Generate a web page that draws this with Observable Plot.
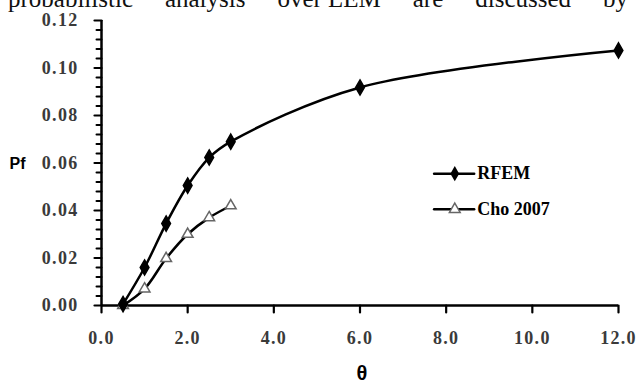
<!DOCTYPE html>
<html>
<head>
<meta charset="utf-8">
<script src="https://cdn.jsdelivr.net/npm/d3@7"></script>
<script src="https://cdn.jsdelivr.net/npm/@observablehq/plot@0.6"></script>
<style>
  html, body { margin: 0; padding: 0; background: #fff; }
  #wrap { position: relative; width: 638px; height: 380px; overflow: hidden; }
  #toptext {
    position: absolute; left: 8px; width: 620px; top: -16px;
    font-family: "Liberation Serif", "Times New Roman", serif; font-size: 25px;
    white-space: nowrap; color: #111; line-height: 30px;
    display: flex; justify-content: space-between;
  }
  #chart g[aria-label$="tick label"] {
    font-family: "Liberation Serif", "Times New Roman", serif !important;
    letter-spacing: 1.3px;
  }
</style>
</head>
<body>
<div id="wrap">
  <div id="chart"></div>
  <div id="toptext"></div>
</div>
<script>
const topLine = ["probabilistic", "analysis", "over LEM", "are", "discussed", "by"];

const thetaValues = [0.5, 1.0, 1.5, 2.0, 2.5, 3.0, 6.0, 12.0];
const rfemValues  = [0.0006, 0.016, 0.0345, 0.0505, 0.0623, 0.069, 0.0918, 0.1074];
const choTheta    = [0.5, 1.0, 1.5, 2.0, 2.5, 3.0];
const choValues   = [0.0, 0.007, 0.0198, 0.030, 0.037, 0.042];

const xTicks = [0, 2, 4, 6, 8, 10, 12];
const yTicks = [0, 0.02, 0.04, 0.06, 0.08, 0.10, 0.12];
const yMinorTicks = [0.004, 0.008, 0.012, 0.016, 0.024, 0.028, 0.032, 0.036, 0.044, 0.048, 0.052, 0.056,
  0.064, 0.068, 0.072, 0.076, 0.084, 0.088, 0.092, 0.096, 0.104, 0.108, 0.112, 0.116];

const seriesNames = ["RFEM", "Cho 2007"];
const xLabel = "θ";
const yLabel = "Pf";

const tt = document.getElementById("toptext");
topLine.forEach(w => { const s = document.createElement("span"); s.textContent = w; tt.appendChild(s); });

const rfem = thetaValues.map((x, i) => ({x, y: rfemValues[i]}));
const cho = choTheta.map((x, i) => ({x, y: choValues[i]}));

const serif = "'Liberation Serif', 'Times New Roman', serif";
const sans = "'Liberation Sans', Arial, sans-serif";

const chart = Plot.plot({
  width: 638,
  height: 380,
  marginLeft: 101,
  marginRight: 20,
  marginTop: 20,
  marginBottom: 75,
  style: {fontFamily: serif, background: "#fff", color: "#000", overflow: "visible"},
  x: {domain: [0, 12]},
  y: {domain: [0, 0.12]},
  marks: [
    Plot.vector(yMinorTicks, {x: 0, y: d => d, length: 5, rotate: 270, anchor: "start",
      stroke: "#000", strokeWidth: 2, shape: {draw(ctx, l) { ctx.moveTo(0, 0); ctx.lineTo(0, -l); }}}),
    Plot.vector(yTicks, {x: 0, y: d => d, length: 7, rotate: 270, anchor: "start",
      stroke: "#000", strokeWidth: 2.2, shape: {draw(ctx, l) { ctx.moveTo(0, 0); ctx.lineTo(0, -l); }}}),
    Plot.vector(xTicks, {x: d => d, y: 0, length: 7, rotate: 180, anchor: "start",
      stroke: "#000", strokeWidth: 2.2, shape: {draw(ctx, l) { ctx.moveTo(0, 0); ctx.lineTo(0, -l); }}}),
    Plot.axisY(yTicks, {tickSize: 0, tickPadding: 23, tickFormat: d3.format(".2f"),
      label: null, fontSize: 18, fontWeight: "bold", fill: "#3a3a3a",
      fontFamily: serif}),
    Plot.axisX(xTicks, {tickSize: 0, tickPadding: 26, tickFormat: d3.format(".1f"),
      label: null, fontSize: 18, fontWeight: "bold", fill: "#3a3a3a",
      fontFamily: serif}),
    Plot.ruleX([0], {stroke: "#000", strokeWidth: 2.5}),
    Plot.ruleY([0], {stroke: "#000", strokeWidth: 2.5}),
    Plot.line(cho, {x: "x", y: "y", curve: "catmull-rom", stroke: "#000", strokeWidth: 2.5}),
    Plot.line(rfem, {x: "x", y: "y", curve: "catmull-rom", stroke: "#000", strokeWidth: 2.5}),
    Plot.dot(cho, {x: "x", y: "y", symbol: "triangle", r: 4, stroke: "#666", strokeWidth: 1.5, fill: "#fff"}),
    Plot.dot(rfem, {x: "x", y: "y", symbol: "diamond", r: 4.6, fill: "#000", stroke: "#000"}),
    Plot.text([yLabel], {frameAnchor: "left", dx: -92, dy: 1, fontSize: 16, fontWeight: "bold",
      fontFamily: sans, textAnchor: "start"}),
    Plot.text([xLabel], {frameAnchor: "bottom", dx: 2, dy: 74, fontSize: 20, fontWeight: "bold",
      fontFamily: sans}),
    Plot.line([{x: 7.72, y: 0.0555}, {x: 8.65, y: 0.0555}], {x: "x", y: "y", stroke: "#000", strokeWidth: 2.5}),
    Plot.dot([{x: 8.2, y: 0.0555}], {x: "x", y: "y", symbol: "diamond", r: 4.6, fill: "#000"}),
    Plot.text([seriesNames[0]], {x: [8.72], y: [0.0555], textAnchor: "start", fontSize: 18, fontWeight: "bold", fontFamily: serif}),
    Plot.line([{x: 7.72, y: 0.0405}, {x: 8.65, y: 0.0405}], {x: "x", y: "y", stroke: "#000", strokeWidth: 2.5}),
    Plot.dot([{x: 8.2, y: 0.0405}], {x: "x", y: "y", symbol: "triangle", r: 4, stroke: "#666", strokeWidth: 1.5, fill: "#fff"}),
    Plot.text([seriesNames[1]], {x: [8.72], y: [0.0405], textAnchor: "start", fontSize: 18, fontWeight: "bold", fontFamily: serif})
  ]
});
document.getElementById("chart").appendChild(chart);
</script>
</body>
</html>
